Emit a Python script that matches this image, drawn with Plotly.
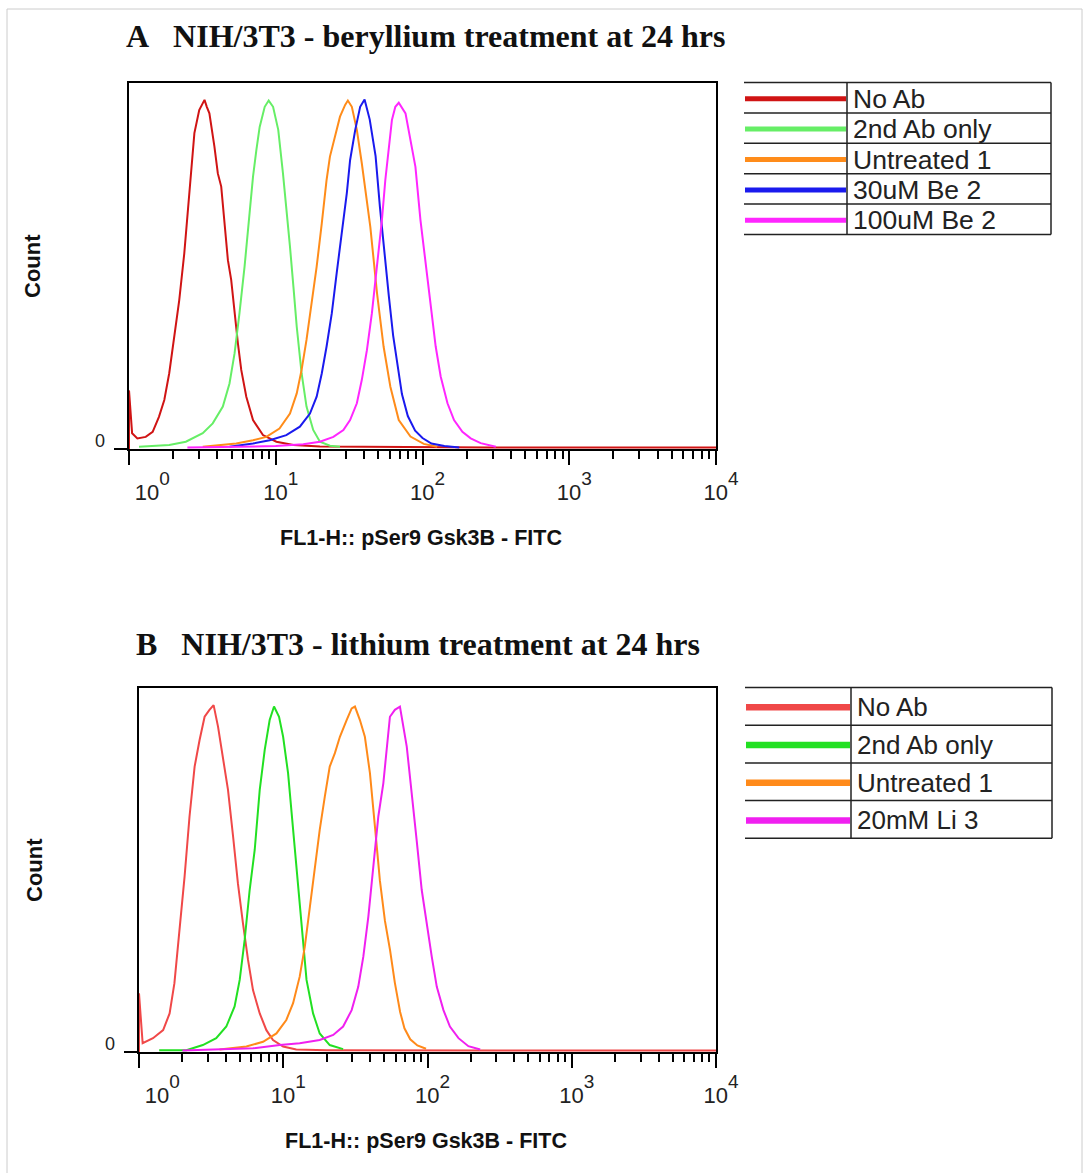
import plotly.graph_objects as go

# ---------------------------------------------------------------------------
# Flow cytometry overlays: FL1-H (pSer9 Gsk3B - FITC) histograms, NIH/3T3 cells
# x = fluorescence intensity (log scale), y = relative count (% of axis height)
# ---------------------------------------------------------------------------

series_a = ["No Ab", "2nd Ab only", "Untreated 1", "30uM Be 2", "100uM Be 2"]
colors_a = ["#d01414", "#66ee66", "#ff8c1a", "#1a1aee", "#ff26ff"]

series_b = ["No Ab", "2nd Ab only", "Untreated 1", "20mM Li 3"]
colors_b = ["#f04848", "#22e022", "#ff8a1a", "#f020f0"]

# --- Panel A: beryllium treatment -------------------------------------------
a_noab_x = [1.0, 1.0, 1.05, 1.14, 1.30, 1.45, 1.60, 1.74, 1.88, 2.03, 2.20, 2.38,
            2.51, 2.64, 2.79, 3.01, 3.27, 3.39, 3.53, 3.82, 4.03, 4.25, 4.48, 4.72,
            4.97, 5.24, 5.52, 5.82, 6.30, 7.00, 8.18, 10.1, 13.2, 20, 60, 300,
            2000, 10000]
a_noab_y = [0, 16.0, 4.3, 2.9, 3.3, 4.7, 8.8, 13.4, 20.7, 29.8, 40.7, 53.4,
            64.4, 75.3, 86.3, 92.6, 95.4, 93.5, 91.7, 82.6, 75.3, 71.7, 61.7, 51.6,
            46.2, 37.1, 28.9, 21.6, 14.3, 7.9, 3.8, 2.0, 1.1, 0.7, 0.5, 0.4,
            0.4, 0.4]

a_2nd_x = [1.17, 1.88, 2.44, 3.18, 3.72, 4.36, 4.84, 5.24, 5.66, 6.13, 6.63, 7.00,
           7.38, 7.77, 8.41, 8.95, 9.59, 10.4, 11.2, 11.8, 12.5, 13.2, 13.9, 15.0,
           16.2, 18.0, 20.0, 23.4, 27.4]
a_2nd_y = [0.6, 1.1, 2.0, 4.3, 7.0, 11.6, 17.9, 26.1, 37.1, 49.8, 64.4, 74.4,
           81.7, 88.0, 93.5, 95.2, 93.5, 87.2, 75.3, 66.2, 55.3, 44.3, 33.4, 20.7,
           11.6, 5.2, 2.0, 0.9, 0.6]

a_untr_x = [3.18, 4.13, 5.38, 7.00, 8.63, 10.6, 12.5, 13.9, 15.0, 16.2, 17.5, 19.0,
            20.6, 22.2, 23.4, 25.4, 27.4, 29.7, 31.0, 33.0, 35.7, 38.6, 41.8, 44.1,
            49.0, 54.3, 60.4, 68.9, 82.8, 102, 126]
a_untr_y = [0.6, 1.1, 1.5, 2.4, 3.3, 5.6, 9.7, 15.2, 21.6, 29.8, 38.9, 49.8,
            61.7, 73.5, 79.9, 85.3, 90.8, 94.0, 95.2, 93.5, 87.2, 78.0, 67.1, 60.7,
            42.5, 28.0, 17.0, 7.9, 3.4, 1.4, 0.6]

a_be30_x = [4.84, 7.00, 9.10, 11.8, 14.6, 17.1, 19.0, 20.6, 22.2, 24.1, 26.0, 28.2,
            30.5, 32.1, 34.8, 37.6, 40.3, 43.7, 47.9, 51.3, 55.0, 58.9, 63.1, 67.6,
            72.4, 79.4, 89.1, 100, 115, 141, 178]
a_be30_y = [0.6, 1.5, 2.4, 3.8, 6.1, 9.7, 14.3, 20.7, 28.0, 37.1, 48.0, 58.9,
            69.9, 78.9, 87.2, 93.5, 95.5, 90.0, 80.0, 66.0, 53.0, 42.0, 31.0, 23.0,
            15.0, 9.0, 5.0, 3.0, 1.5, 0.8, 0.4]

a_be100_x = [2.5, 5.0, 10.0, 15.4, 20.0, 24.7, 28.9, 32.1, 35.7, 38.6, 41.8, 45.2,
             48.9, 52.9, 55.8, 58.8, 61.9, 65.3, 68.9, 76.6, 82.8, 89.5, 96.8, 102,
             108, 114, 123, 133, 148, 164, 187, 213, 249, 316]
a_be100_y = [0.4, 0.6, 0.8, 1.3, 2.0, 3.3, 5.2, 7.9, 12.5, 18.9, 27.0, 37.1,
             49.8, 62.6, 73.5, 82.6, 89.9, 93.5, 94.6, 91.7, 84.4, 77.1, 62.6, 55.3,
             46.2, 38.9, 28.0, 19.8, 12.5, 7.9, 4.7, 2.9, 1.6, 0.6]

# --- Panel B: lithium treatment ---------------------------------------------
b_noab_x = [1.0, 1.0, 1.06, 1.25, 1.47, 1.63, 1.76, 1.91, 2.07, 2.24, 2.43, 2.63,
            2.85, 3.08, 3.29, 3.53, 3.82, 4.14, 4.49, 4.85, 5.26, 5.70, 6.17, 6.87,
            7.64, 8.49, 9.98, 12.3, 20, 60, 300, 2000, 10000]
b_noab_y = [0, 16.1, 2.4, 3.8, 6.0, 10.6, 18.9, 33.5, 48.2, 64.7, 78.4, 85.7,
            92.1, 94.0, 95.3, 89.4, 80.2, 72.0, 59.2, 46.3, 35.3, 25.3, 17.0, 10.6,
            6.0, 3.3, 1.5, 0.7, 0.5, 0.4, 0.4, 0.4, 0.4]

b_2nd_x = [1.38, 2.13, 2.77, 3.43, 4.03, 4.60, 4.99, 5.40, 5.85, 6.34, 6.87, 7.44,
           8.05, 8.63, 9.35, 9.98, 10.8, 11.7, 12.5, 13.4, 14.5, 16.1, 17.9, 21.0,
           26.0]
b_2nd_y = [0.5, 0.5, 1.9, 3.8, 7.0, 12.5, 19.8, 30.8, 44.5, 55.5, 72.0, 83.0,
           91.2, 94.9, 92.1, 86.6, 76.6, 61.0, 48.2, 33.5, 19.8, 10.6, 5.1, 1.9,
           0.8]

b_untr_x = [3.62, 5.55, 7.24, 8.97, 10.5, 11.7, 13.0, 14.1, 15.3, 16.6, 17.9, 19.4,
            21.0, 22.8, 24.7, 27.5, 29.8, 31.4, 34.0, 36.8, 39.9, 43.2, 46.8, 50.7,
            55.0, 59.4, 64.6, 69.2, 75.9, 85.1, 97.7]
b_untr_y = [0.7, 1.5, 2.8, 5.1, 8.8, 13.4, 20.7, 28.9, 39.9, 50.9, 61.0, 70.1,
            78.4, 82.1, 86.6, 91.2, 94.4, 94.9, 91.2, 86.6, 76.6, 62.0, 47.0, 36.0,
            28.0, 19.0, 11.0, 6.5, 3.5, 1.8, 0.9]

b_li20_x = [2.0, 4.0, 6.17, 9.46, 13.0, 17.9, 22.2, 26.0, 29.8, 33.1, 35.9, 38.9,
            42.1, 45.6, 49.4, 52.1, 54.9, 59.4, 64.4, 71.8, 77.6, 84.1, 91.2, 98.6,
            107, 116, 129, 143, 164, 192, 232]
b_li20_y = [0.4, 0.7, 1.0, 1.9, 2.4, 3.3, 4.7, 7.0, 11.5, 17.9, 26.2, 37.2,
            50.0, 64.7, 73.8, 83.9, 92.1, 94.0, 94.9, 83.9, 72.0, 58.2, 44.5, 35.3,
            26.2, 17.9, 11.5, 7.0, 3.8, 1.6, 0.7]

curves_a = [(a_noab_x, a_noab_y), (a_2nd_x, a_2nd_y), (a_untr_x, a_untr_y),
            (a_be30_x, a_be30_y), (a_be100_x, a_be100_y)]
curves_b = [(b_noab_x, b_noab_y), (b_2nd_x, b_2nd_y), (b_untr_x, b_untr_y),
            (b_li20_x, b_li20_y)]

decade_vals = [1, 10, 100, 1000, 10000]
decade_exps = ["0", "1", "2", "3", "4"]

# ---------------------------------------------------------------------------
W, H = 1086, 1173
SERIF = "Liberation Serif, Times New Roman, serif"
SANS = "Liberation Sans, Arial, sans-serif"

# "10" with a large raised exponent; the first label sits right of its tick
decade_text = ["10<sup><sup><span style='font-size:19px'>%s</span></sup></sup>" % e
               for e in decade_exps]
decade_text[0] = "\u00a0" * 6 + decade_text[0]


def fx(p):
    return p / W


def fy(p):
    return 1 - p / H


fig = go.Figure()

for (xs, ys), name, col in zip(curves_a, series_a, colors_a):
    fig.add_trace(go.Scatter(x=xs, y=ys, name=name, mode="lines",
                             line=dict(color=col, width=2),
                             xaxis="x", yaxis="y"))
for (xs, ys), name, col in zip(curves_b, series_b, colors_b):
    fig.add_trace(go.Scatter(x=xs, y=ys, name=name, mode="lines",
                             line=dict(color=col, width=2),
                             xaxis="x2", yaxis="y2"))

minor_vals = [m * 10 ** d for d in range(4) for m in range(2, 10)]


def x_axis(left, right, anchor):
    return dict(type="log", range=[0, 4], domain=[fx(left), fx(right)],
                anchor=anchor, automargin=False, showgrid=False, zeroline=False,
                showline=True, linecolor="black", linewidth=2, mirror=True,
                ticks="outside", ticklen=14, tickwidth=2, tickcolor="black",
                tickmode="array", tickvals=decade_vals, ticktext=decade_text,
                tickfont=dict(family=SANS, size=22, color="#222"),
                ticklabelstandoff=9, ticklabelshift=5,
                minor=dict(tickmode="array", tickvals=minor_vals,
                           ticks="outside", ticklen=8, tickwidth=1.5,
                           tickcolor="black"),
                fixedrange=True)


def y_axis(top, bottom, anchor):
    return dict(range=[0, 100], domain=[fy(bottom), fy(top)], anchor=anchor,
                automargin=False, showgrid=False, zeroline=False, showline=True,
                linecolor="black", linewidth=2, mirror=True,
                ticks="outside", ticklen=13, tickwidth=2, tickcolor="black",
                tickmode="array", tickvals=[0], showticklabels=False,
                fixedrange=True)


panels = [
    # left, right, top, bottom of each plot frame (px)
    dict(l=129, r=716, t=83, b=449),
    dict(l=139, r=716, t=688, b=1052),
]

annotations = []
shapes = []

# Panel titles
titles = ["A\u00a0\u00a0\u00a0NIH/3T3 - beryllium treatment at 24 hrs",
          "B\u00a0\u00a0\u00a0NIH/3T3 - lithium treatment at 24 hrs"]
title_pos = [(124, 36.5), (134, 644)]
for txt, (tx, ty) in zip(titles, title_pos):
    annotations.append(dict(text="<b>%s</b>" % txt, x=fx(tx), y=fy(ty),
                            xref="paper", yref="paper", xanchor="left",
                            yanchor="middle", showarrow=False,
                            font=dict(family=SERIF, size=32, color="#111")))

x_title = "FL1-H:: pSer9 Gsk3B - FITC"
for i, p in enumerate(panels):
    # axis titles
    annotations.append(dict(text="<b>Count</b>", x=fx(32 + 2 * i),
                            y=fy((p["t"] + p["b"]) / 2),
                            xref="paper", yref="paper", xanchor="center",
                            yanchor="middle", textangle=-90, showarrow=False,
                            font=dict(family=SANS, size=22, color="#111")))
    annotations.append(dict(text="<b>%s</b>" % x_title,
                            x=fx((p["l"] + p["r"]) / 2 - 2), y=fy(p["b"] + 89),
                            xref="paper", yref="paper", xanchor="center",
                            yanchor="middle", showarrow=False,
                            font=dict(family=SANS, size=21.5, color="#111")))
    # zero label of the count axis
    annotations.append(dict(text="0", x=fx(p["l"] - 22), y=fy(p["b"] - 8),
                            xref="paper", yref="paper", xanchor="right",
                            yanchor="middle", showarrow=False,
                            font=dict(family=SANS, size=18, color="#222")))

# Legend tables
legend_boxes = [
    dict(names=series_a, colors=colors_a, l=744, mid=847, r=1051, t=82.5,
         row=30.4, lw=5, fs=26.5),
    dict(names=series_b, colors=colors_b, l=745, mid=851, r=1052, t=687.5,
         row=37.7, lw=6.5, fs=26),
]
for box in legend_boxes:
    n = len(box["names"])
    bottom = box["t"] + n * box["row"]
    for k in range(n + 1):
        yy = box["t"] + k * box["row"]
        shapes.append(dict(type="line", xref="paper", yref="paper",
                           x0=fx(box["l"]), x1=fx(box["r"]), y0=fy(yy), y1=fy(yy),
                           line=dict(color="#222", width=1.5)))
    for xx in (box["mid"], box["r"]):
        shapes.append(dict(type="line", xref="paper", yref="paper",
                           x0=fx(xx), x1=fx(xx), y0=fy(box["t"]), y1=fy(bottom),
                           line=dict(color="#222", width=1.5)))
    for k, (name, col) in enumerate(zip(box["names"], box["colors"])):
        yc = box["t"] + (k + 0.5) * box["row"] + 1
        shapes.append(dict(type="line", xref="paper", yref="paper",
                           x0=fx(box["l"] + 1), x1=fx(box["mid"] - 1),
                           y0=fy(yc), y1=fy(yc),
                           line=dict(color=col, width=box["lw"])))
        annotations.append(dict(text=name, x=fx(box["mid"] + 4), y=fy(yc),
                                xref="paper", yref="paper", xanchor="left",
                                yanchor="middle", showarrow=False,
                                font=dict(family=SANS, size=box["fs"], color="#222")))

# thin page frame
shapes.append(dict(type="rect", xref="paper", yref="paper",
                   x0=fx(7), x1=fx(1082), y0=fy(1190), y1=fy(9),
                   line=dict(color="#cccccc", width=1), layer="below"))

fig.update_layout(
    width=W, height=H,
    margin=dict(l=0, r=0, t=0, b=0, pad=0, autoexpand=False),
    paper_bgcolor="white", plot_bgcolor="white",
    showlegend=False,
    xaxis=x_axis(panels[0]["l"], panels[0]["r"], "y"),
    yaxis=y_axis(panels[0]["t"], panels[0]["b"], "x"),
    xaxis2=x_axis(panels[1]["l"], panels[1]["r"], "y2"),
    yaxis2=y_axis(panels[1]["t"], panels[1]["b"], "x2"),
    annotations=annotations,
    shapes=shapes,
)

fig.write_html("out.html")
